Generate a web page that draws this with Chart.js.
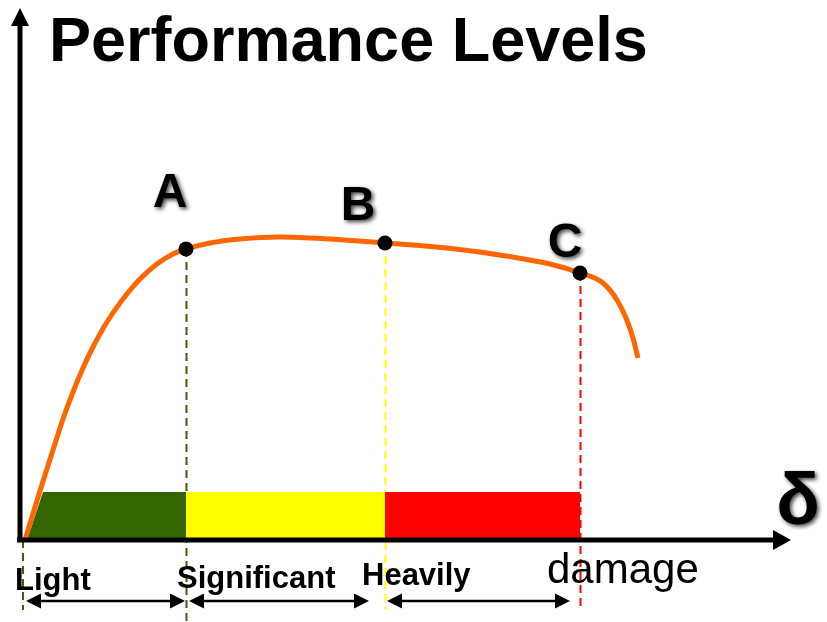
<!DOCTYPE html>
<html>
<head>
<meta charset="utf-8">
<script src="https://cdn.jsdelivr.net/npm/chart.js@4.4.0/dist/chart.umd.min.js"></script>
<style>
  html, body { margin: 0; padding: 0; background: #fff; }
</style>
</head>
<body>
<canvas id="perfChart" width="827" height="622"></canvas>
<script>
// Capacity curve (δ and force in arbitrary units)
const curveX = [0.4, 1.8, 3.2, 4.2, 5.2, 6.2, 7.2, 8.6, 10.2, 11.9, 13.6, 15.2, 16.5, 18.9, 21.9, 25.9, 30.9, 36.4, 42.6, 49.2, 52.9, 55.9, 58.2, 59.6, 60.5, 61.2, 61.7];
const curveY = [0.0, 4.6, 9.0, 12.1, 14.8, 17.2, 19.3, 21.8, 24.1, 26.1, 27.6, 28.6, 29.1, 29.7, 30.1, 30.3, 30.1, 29.7, 29.2, 28.3, 27.6, 26.7, 25.7, 24.0, 22.2, 20.2, 18.2];

// Performance points
const levelNames = ['A', 'B', 'C'];
const levelX = [16.5, 36.4, 55.9];
const levelY = [29.1, 29.7, 26.7];

// Damage bands
const bandColors = ['#336600', '#FFFF00', '#FF0000'];
const bandTop = 4.8;
const greenEdgeX = [0.6, 2.2]; // slanted left edge of green band (bottom, top)

const zoneLabels = ['Light', 'Significant', 'Heavily', 'damage'];
const axisLabel = 'δ';
const titleText = 'Performance Levels';

const FONT = '"Liberation Sans", Arial, sans-serif';

const pts = (xs, ys) => xs.map((x, i) => ({ x: x, y: ys[i] }));

const bandData = [
    [{ x: greenEdgeX[0], y: 0 }, { x: greenEdgeX[1], y: bandTop }, { x: levelX[0], y: bandTop }, { x: levelX[0], y: 0 }],
    [{ x: levelX[0], y: bandTop }, { x: levelX[1], y: bandTop }],
    [{ x: levelX[1], y: bandTop }, { x: levelX[2], y: bandTop }]
];

function arrowHead(ctx, tipX, tipY, dx, dy, len, half) {
    // dx,dy = unit direction the arrow points to
    const bx = tipX - dx * len, by = tipY - dy * len;
    ctx.beginPath();
    ctx.moveTo(tipX, tipY);
    ctx.lineTo(bx - dy * half, by + dx * half);
    ctx.lineTo(bx + dy * half, by - dx * half);
    ctx.closePath();
    ctx.fill();
}

const guidePlugin = {
    id: 'guides',
    beforeDatasetsDraw(chart) {
        const ctx = chart.ctx, sx = chart.scales.x, sy = chart.scales.y;
        ctx.save();
        ctx.lineWidth = 2;
        ctx.setLineDash([8, 5]);
        const ends = [622, 610, 606];
        levelX.forEach((x, i) => {
            const p = Math.round(sx.getPixelForValue(x)) + 0.5;
            ctx.strokeStyle = bandColors[i];
            ctx.beginPath();
            ctx.moveTo(p, sy.getPixelForValue(levelY[i]));
            ctx.lineTo(p, ends[i]);
            ctx.stroke();
        });
        // origin guide
        ctx.strokeStyle = bandColors[0];
        ctx.beginPath();
        ctx.moveTo(23, 540);
        ctx.lineTo(23, 610);
        ctx.stroke();
        ctx.restore();
    },
    afterDatasetsDraw(chart) {
        const ctx = chart.ctx, sx = chart.scales.x, sy = chart.scales.y;
        const x0 = sx.getPixelForValue(0) - 1, y0 = sy.getPixelForValue(0);
        ctx.save();
        // axes
        ctx.fillStyle = '#000';
        ctx.strokeStyle = '#000';
        ctx.lineWidth = 5;
        ctx.beginPath();
        ctx.moveTo(x0, y0 + 2);
        ctx.lineTo(x0, 22);
        ctx.moveTo(x0 - 3, y0);
        ctx.lineTo(776, y0);
        ctx.stroke();
        arrowHead(ctx, x0, 8, 0, -1, 18, 9);
        arrowHead(ctx, 791, y0, 1, 0, 18, 10);

        // title
        ctx.textBaseline = 'alphabetic';
        ctx.textAlign = 'left';
        ctx.font = 'bold 63px ' + FONT;
        ctx.fillText(titleText, 49, 61);

        // range arrows
        const edges = [0].concat(levelX);
        const startOff = [5, 3, 2];
        const endOff = [-1, -16, -10];
        ctx.lineWidth = 2.5;
        for (let i = 0; i < 3; i++) {
            const a = sx.getPixelForValue(edges[i]) + startOff[i];
            const b = sx.getPixelForValue(edges[i + 1]) + endOff[i];
            const y = 601;
            ctx.beginPath();
            ctx.moveTo(a + 8, y);
            ctx.lineTo(b - 8, y);
            ctx.stroke();
            arrowHead(ctx, a, y, -1, 0, 15, 7.5);
            arrowHead(ctx, b, y, 1, 0, 15, 7.5);
        }

        // zone labels
        const lblX = [15, 177, 362, 547];
        const lblY = [590, 588, 585, 583];
        zoneLabels.forEach((t, i) => {
            ctx.font = (i < 3 ? 'bold 31px ' : '42px ') + FONT;
            ctx.fillText(t, lblX[i], lblY[i]);
        });

        // level letters and δ with soft shadow
        ctx.shadowColor = 'rgba(0,0,0,0.75)';
        ctx.shadowBlur = 4;
        ctx.shadowOffsetX = 2;
        ctx.shadowOffsetY = 2;
        ctx.textAlign = 'center';
        ctx.font = 'bold 48px ' + FONT;
        const off = [[-16, -42], [-27, -23], [-15, -16]];
        levelNames.forEach((t, i) => {
            ctx.fillText(t, sx.getPixelForValue(levelX[i]) + off[i][0], sy.getPixelForValue(levelY[i]) + off[i][1]);
        });
        ctx.font = 'bold 72px ' + FONT;
        ctx.fillText(axisLabel, 798, 524);
        ctx.restore();
    }
};

new Chart(document.getElementById('perfChart'), {
    type: 'line',
    data: {
        datasets: [
            {
                data: pts(levelX, levelY),
                showLine: false,
                pointRadius: 7.5,
                pointBackgroundColor: '#000',
                pointBorderWidth: 0,
                order: 0
            },
            {
                data: pts(curveX, curveY),
                borderColor: '#FF6600',
                borderWidth: 5,
                cubicInterpolationMode: 'monotone',
                pointRadius: 0,
                fill: false,
                order: 1
            }
        ].concat(bandData.map((d, i) => ({
            data: d,
            borderWidth: 0,
            borderColor: bandColors[i],
            backgroundColor: bandColors[i],
            pointRadius: 0,
            tension: 0,
            fill: 'origin',
            order: 2
        })))
    },
    options: {
        responsive: false,
        animation: false,
        layout: { padding: { left: 21, right: 37, top: 10, bottom: 82 } },
        scales: {
            x: { type: 'linear', min: 0, max: 76.9, display: false },
            y: { type: 'linear', min: 0, max: 53, display: false }
        },
        plugins: {
            legend: { display: false },
            tooltip: { enabled: false }
        },
        clip: false
    },
    plugins: [guidePlugin]
});
</script>
</body>
</html>
